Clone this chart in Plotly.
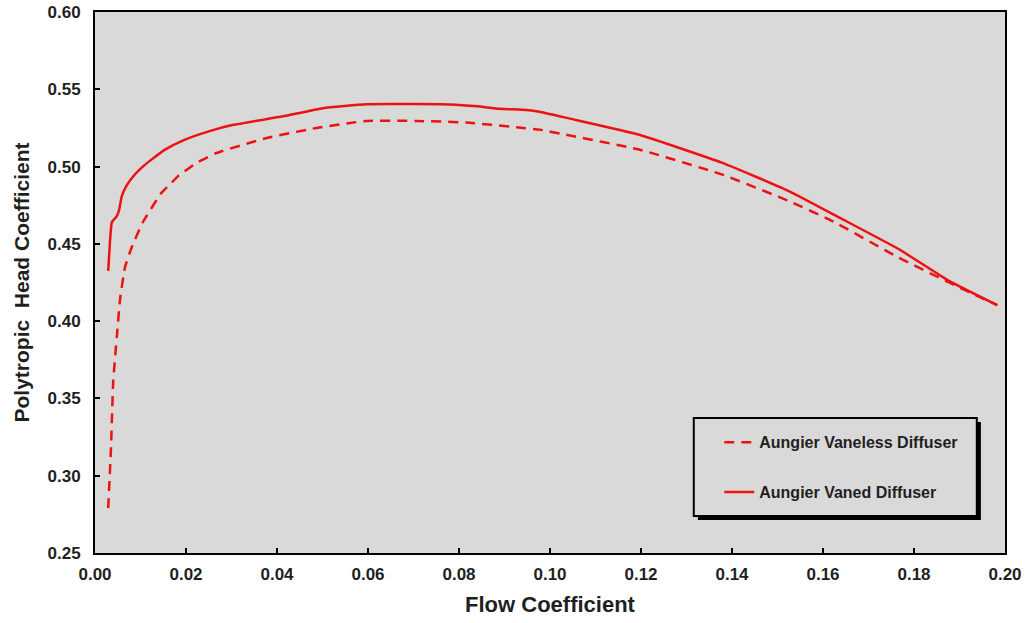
import plotly.graph_objects as go

vaned_x = [0.0029, 0.0033, 0.0037, 0.0048, 0.0053, 0.0059, 0.0070, 0.0088, 0.0105, 0.0124, 0.0154,
           0.0194, 0.0250, 0.0304, 0.0413, 0.0501, 0.0596, 0.0700, 0.0779, 0.0840, 0.0889, 0.0948,
           0.0977, 0.1044, 0.1196, 0.1379, 0.1526, 0.1636, 0.1767, 0.1877, 0.1983]
vaned_y = [0.4325, 0.452, 0.464, 0.468, 0.472, 0.481, 0.488, 0.495, 0.500, 0.5045, 0.511,
           0.5170, 0.5228, 0.5270, 0.5325, 0.5378, 0.5403, 0.5404, 0.5402, 0.539, 0.5374, 0.5366,
           0.5355, 0.5310, 0.5206, 0.5024, 0.484, 0.467, 0.4465, 0.426, 0.4103]

vaneless_x = [0.0029, 0.0035, 0.0040, 0.0048, 0.0055, 0.0066, 0.0081, 0.0105, 0.0146, 0.0168, 0.0183,
              0.0227, 0.0267, 0.0377, 0.0487, 0.0596, 0.0706, 0.0816, 0.0926, 0.0977, 0.1035, 0.1196,
              0.1379, 0.1526, 0.1621, 0.1767, 0.1877, 0.1983]
vaneless_y = [0.279, 0.317, 0.361, 0.390, 0.414, 0.435, 0.448, 0.464, 0.483, 0.4895, 0.494,
              0.503, 0.5088, 0.5185, 0.525, 0.5295, 0.5295, 0.5285, 0.5254, 0.5239, 0.5206, 0.511,
              0.4948, 0.4776, 0.4647, 0.441, 0.425, 0.4103]

x_ticks = [0.00, 0.02, 0.04, 0.06, 0.08, 0.10, 0.12, 0.14, 0.16, 0.18, 0.20]
y_ticks = [0.25, 0.30, 0.35, 0.40, 0.45, 0.50, 0.55, 0.60]

RED = "#ee1111"
FONT = "Liberation Sans, Arial, sans-serif"
TXT = "#1f1f1f"

fig = go.Figure()
fig.add_trace(go.Scatter(x=vaneless_x, y=vaneless_y, mode="lines", name="Aungier Vaneless Diffuser",
                         legendgroup="a",
                         line=dict(color=RED, width=2.5, dash="10px,7px", shape="spline", smoothing=0.4)))
fig.add_trace(go.Scatter(x=vaned_x, y=vaned_y, mode="lines", name="Aungier Vaned Diffuser",
                         legendgroup="b",
                         line=dict(color=RED, width=2.5, shape="spline", smoothing=0.4)))

# legend box with shadow
fig.add_shape(type="rect", xref="paper", yref="paper", x0=0.6625, x1=0.9735, y0=0.061, y1=0.242,
              fillcolor="black", line=dict(width=0), layer="above")
fig.add_shape(type="rect", xref="paper", yref="paper", x0=0.658, x1=0.969, y0=0.0684, y1=0.2495,
              fillcolor="#d9d9d9", line=dict(color="black", width=2), layer="above")

axis_common = dict(showline=True, linecolor="black", linewidth=2, mirror=True, ticks="inside",
                   ticklen=5, tickwidth=2, tickcolor="black", showgrid=False, zeroline=False,
                   automargin=False,
                   tickfont=dict(family=FONT, size=17, color=TXT, weight="bold"))

fig.update_layout(
    width=1031, height=623,
    margin=dict(l=95, r=26, t=12, b=70),
    paper_bgcolor="white", plot_bgcolor="#d9d9d9",
    showlegend=True,
    legend=dict(x=0.686, y=0.236, xanchor="left", yanchor="top", bgcolor="rgba(0,0,0,0)",
                borderwidth=0, tracegroupgap=26, traceorder="grouped",
                font=dict(family=FONT, size=16, color=TXT, weight="bold")),
    xaxis=dict(range=[0, 0.20], tickvals=x_ticks, tickformat=".2f", ticklabelstandoff=5,
               title=dict(text="Flow Coefficient", standoff=13,
                          font=dict(family=FONT, size=22, color=TXT, weight="bold")),
               **axis_common),
    yaxis=dict(range=[0.25, 0.60], tickvals=y_ticks, tickformat=".2f", ticklabelstandoff=9,
               title=dict(text="Polytropic  Head Coefficient", standoff=12,
                          font=dict(family=FONT, size=21, color=TXT, weight="bold")),
               **axis_common),
)

fig.write_html("out.html", config={"displayModeBar": False},
               post_script="document.body.style.margin='0';")
